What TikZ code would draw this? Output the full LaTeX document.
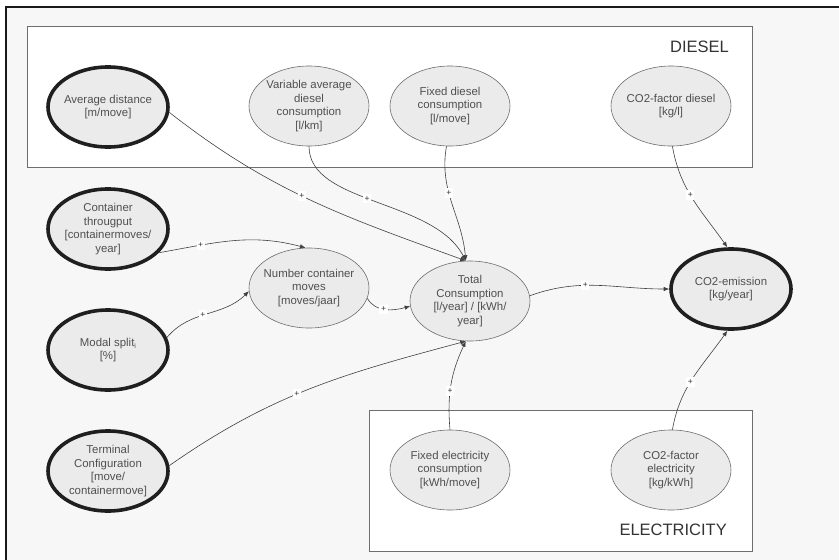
\documentclass[tikz,border=0pt]{standalone}
\usepackage{fontspec}
\setmainfont{Liberation Sans}
\usetikzlibrary{arrows.meta,shapes.geometric}
\definecolor{bg}{HTML}{F7F7F7}
\definecolor{efill}{HTML}{EBEBEB}
\definecolor{eline}{HTML}{6E6E6E}
\definecolor{txt}{HTML}{505050}
\definecolor{conncol}{HTML}{404040}
\begin{document}
\begin{tikzpicture}[x=1pt,y=1pt,
  varell/.style={ellipse, draw=eline, line width=0.6pt, fill=efill,
    minimum width=120pt, minimum height=80pt, inner sep=0pt},
  keyell/.style={varell, draw=black!88, line width=3.6pt},
  vtxt/.style={align=center, inner sep=0pt, text=txt,
    font=\fontsize{11.4}{13.8}\selectfont},
  region/.style={draw=eline, line width=0.6pt, fill=white},
  regtxt/.style={anchor=east, inner sep=0pt, text=black!80,
    font=\fontsize{16.5}{16.5}\selectfont},
  conn/.style={draw=conncol, line width=0.6pt, -{Latex[length=5.5pt,width=4.5pt]}},
  plus/.style={fill=white, inner xsep=1.6pt, inner ysep=2.2pt, text=black!80,
    font=\fontsize{8.5}{8.5}\selectfont}]
\useasboundingbox (0,0) rectangle (839,-560);
% background frame
\fill[bg] (6,-7) rectangle (839,-560);
\draw[black!90, line width=1.6pt] (6,-560) -- (6,-7) -- (839,-7);
% regions
\draw[region] (27,-26) rectangle (752,-167);
\draw[region] (369,-410) rectangle (752,-551);
\node[regtxt] (dieselLbl) at (729,-47) {DIESEL};
\node[regtxt] (elecLbl) at (727,-530) {ELECTRICITY};
% ellipses
\node[keyell] (avg) at (108,-107) {};
\node[vtxt] (avgT) at (avg) {Average distance\\{[m/move]}};
\node[varell] (var) at (309,-106) {};
\node[vtxt] (varT) at (var) {Variable average\\diesel\\consumption\\{[l/km]}};
\node[varell] (fix) at (450,-106) {};
\node[vtxt] (fixT) at (fix) {Fixed diesel\\consumption\\{[l/move]}};
\node[varell] (co2d) at (671,-106) {};
\node[vtxt] (co2dT) at (co2d) {CO2-factor diesel\\{[kg/l]}};
\node[keyell] (cth) at (108,-229) {};
\node[vtxt] (cthT) at (cth) {Container\\througput\\{[containermoves/}\\year]};
\node[varell] (ncm) at (309,-288) {};
\node[vtxt] (ncmT) at (ncm) {Number container\\moves\\{[moves/jaar]}};
\node[keyell] (modal) at (108,-350) {};
\node[vtxt] (modalT) at (modal) {Modal split\raisebox{-0.45ex}{\fontsize{7}{7}\selectfont i}\\{[\%]}};
\node[keyell] (term) at (108,-471) {};
\node[vtxt] (termT) at (term) {Terminal\\Configuration\\{[move/}\\containermove]};
\node[varell] (tot) at (470,-301) {};
\node[vtxt] (totT) at (tot) {Total\\Consumption\\{[l/year] / [kWh/}\\year]};
\node[keyell] (co2e) at (731,-289) {};
\node[vtxt] (co2eT) at (co2e) {CO2-emission\\{[kg/year]}};
\node[varell] (fel) at (450,-470) {};
\node[vtxt] (felT) at (fel) {Fixed electricity\\consumption\\{[kWh/move]}};
\node[varell] (co2el) at (671,-470) {};
\node[vtxt] (co2elT) at (co2el) {CO2-factor\\electricity\\{[kg/kWh]}};
% connectors
\draw[conn] (avg.-5) to[out=-38,in=160] node[plus,pos=0.47]{+} (tot.96);
\draw[conn] (var.south) .. controls +(0,-58) and +(-32,62) .. node[plus,pos=0.46]{+} (tot.96);
\draw[conn] (fix.-95) to[out=-100,in=95] node[plus,pos=0.4]{+} (tot.96);
\draw[conn] (co2d.-88) to[out=-80,in=125] node[plus,pos=0.45]{+} (co2e.95);
\draw[conn] (cth.-25) to[out=10,in=165] node[plus,pos=0.27]{+} (ncm.95);
\draw[conn] (modal.12) to[out=50,in=-135] node[plus,pos=0.45]{+} (ncm.183);
\draw[conn] (ncm.-10) to[out=-60,in=195] node[plus,pos=0.45]{+} (tot.185);
\draw[conn] (term.5) to[out=35,in=195] node[plus,pos=0.45]{+} (tot.-96);
\draw[conn] (fel.north) to[out=95,in=-115] node[plus,pos=0.42]{+} (tot.-96);
\draw[conn] (co2el.88) to[out=80,in=-125] node[plus,pos=0.45]{+} (co2e.-95);
\draw[conn] (tot.5) to[out=20,in=180] node[plus,pos=0.4]{+} (co2e.180);
\end{tikzpicture}
\end{document}
